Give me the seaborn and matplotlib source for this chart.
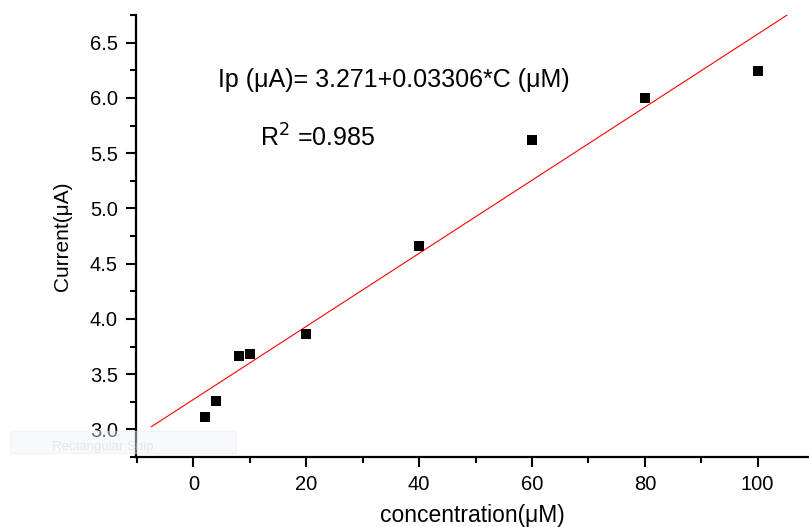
import numpy as np
import pandas as pd
import matplotlib
matplotlib.use("Agg")
import matplotlib.pyplot as plt
from matplotlib.ticker import MultipleLocator, FormatStrFormatter
from matplotlib.patches import Rectangle
import seaborn as sns

concentration = [2, 4, 8, 10, 20, 40, 60, 80, 100]
current = [3.11, 3.26, 3.66, 3.68, 3.86, 4.66, 5.62, 6.00, 6.24]
intercept = 3.271
slope = 0.03306
fit_x = [-7.5, 105.3]
fit_y = [intercept + slope * x for x in fit_x]

sns.set_style("ticks")
plt.rcParams['font.family'] = ['Liberation Sans', 'DejaVu Sans']
plt.rcParams.update({'text.color': 'black', 'axes.labelcolor': 'black',
                     'xtick.color': 'black', 'ytick.color': 'black',
                     'axes.edgecolor': 'black'})

fig = plt.figure(figsize=(8.09, 5.27), dpi=100)
ax = fig.add_axes([0.168, 0.1328, 0.832, 0.8387])

df = pd.DataFrame({"concentration": concentration, "current": current})
fit = pd.DataFrame({"x": fit_x, "y": fit_y})
sns.lineplot(data=fit, x="x", y="y", ax=ax, color="red", linewidth=0.8)
sns.scatterplot(data=df, x="concentration", y="current", ax=ax, marker="s",
                s=60, color="black", edgecolor="black", linewidth=0, zorder=3)

ax.set_xlim(-10.2, 109.1)
ax.set_ylim(2.75, 6.75)
ax.xaxis.set_major_locator(MultipleLocator(20))
ax.xaxis.set_minor_locator(MultipleLocator(10))
ax.yaxis.set_major_locator(MultipleLocator(0.5))
ax.yaxis.set_minor_locator(MultipleLocator(0.25))
ax.yaxis.set_major_formatter(FormatStrFormatter('%.1f'))
ax.tick_params(which='major', length=7, width=1.5, labelsize=14.5, direction='out', pad=6)
ax.tick_params(which='minor', length=4.5, width=1.5, direction='out')
for s in ['top', 'right']:
    ax.spines[s].set_visible(False)
for s in ['left', 'bottom']:
    ax.spines[s].set_linewidth(1.6)

ax.set_xlabel("concentration(μM)", fontsize=16.5, labelpad=7)
ax.set_ylabel("Current(μA)", fontsize=15, labelpad=13)

ax.text(0.122, 0.853, "Ip (μA)= 3.271+0.03306*C (μM)", transform=ax.transAxes,
        fontsize=18, va='center', ha='left')
ax.text(0.184, 0.722, "R$^2$ =0.985", transform=ax.transAxes,
        fontsize=18, va='center', ha='left')

# faint screenshot overlay artifact
fig.patches.append(Rectangle((10/809, 1 - 453/527), 226/809, 22/527,
                             transform=fig.transFigure, facecolor='#eef3fa',
                             edgecolor='#e4ebf5', linewidth=1, alpha=0.45, zorder=2))
fig.text(52/809, 1 - 447/527, "Rectangular Snip", fontsize=9.5, color="#e3e6ea",
         va='center', ha='left', zorder=2)

fig.savefig("out.png", dpi=100)
